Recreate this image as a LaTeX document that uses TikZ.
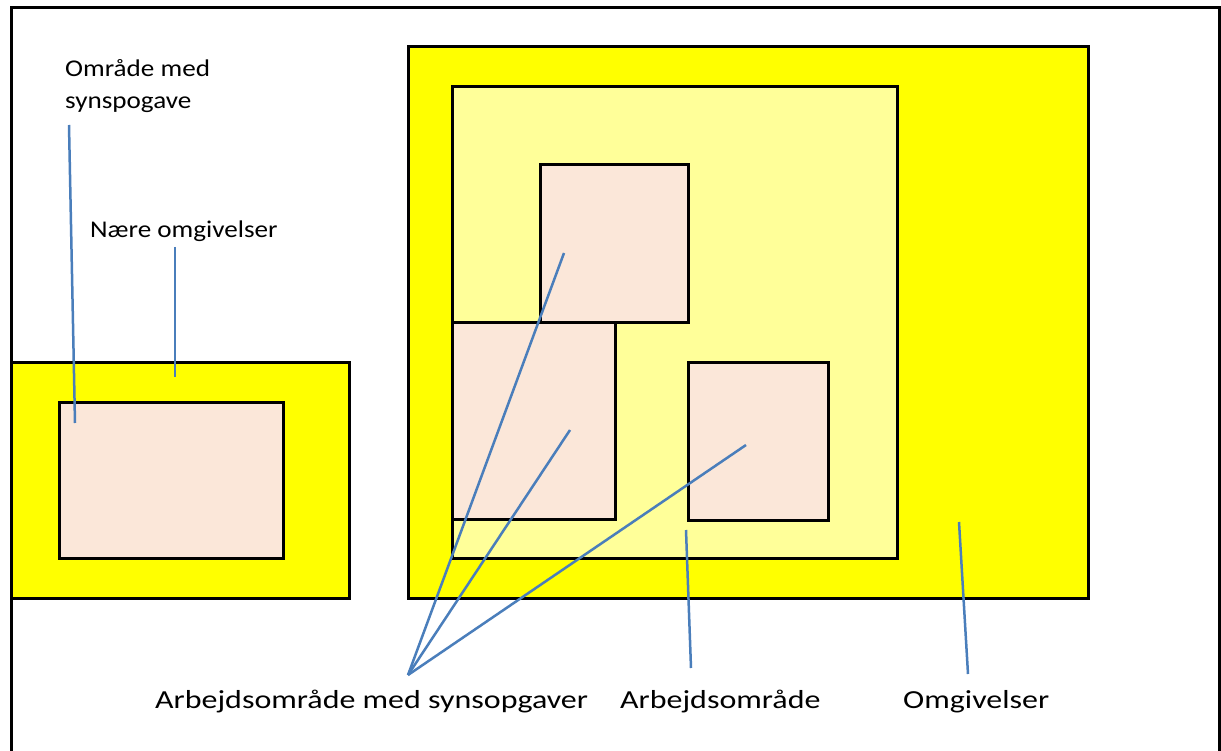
\documentclass[tikz,border=0pt]{standalone}
\usepackage{fontspec}
\setmainfont{Carlito}
\newfontfamily\widefont[FakeStretch=1.23]{Carlito}
\newfontfamily\loosefont[FakeStretch=1.13]{Carlito}
\begin{document}
\begin{tikzpicture}[x=1pt,y=-1pt,
  frame/.style={draw=black,line width=3pt},
  zone/.style={draw=black,line width=3pt,fill=#1},
  pointer/.style={draw=lineblue,line width=2.5pt},
  label/.style={font=\widefont\fontsize{26}{30}\selectfont,inner sep=0pt,anchor=base west},
  toplabel/.style={font=\loosefont\fontsize{24}{32}\selectfont,inner sep=0pt,anchor=base west}
]
\definecolor{yel}{HTML}{FFFF00}
\definecolor{lightyel}{HTML}{FFFF99}
\definecolor{peach}{HTML}{FBE7D9}
\definecolor{lineblue}{HTML}{4A7EBB}
\useasboundingbox (0,0) rectangle (1221,751);
\fill[white] (0,0) rectangle (1221,751);
\clip (0,0) rectangle (1221,751);

% outer frame, open at the bottom
\draw[frame] (11,760) -- (11,8) -- (1219,8) -- (1219,760);

% small setup on the left
\draw[zone=yel] (11,362) rectangle (349,598);
\draw[zone=peach] (59,402) rectangle (283,558);

% large setup on the right
\draw[zone=yel] (408,47) rectangle (1088,598);
\draw[zone=lightyel] (452,87) rectangle (897,558);
\draw[zone=peach] (540,165) rectangle (688,323);
\draw[zone=peach] (452,323) rectangle (615,519);
\draw[zone=peach] (688,362) rectangle (828,520);

% labels
\node[toplabel] (omr) at (65,77) {Område med};
\node[toplabel] (syn) at (65,109) {synspogave};
\node[toplabel] (naere) at (90,238) {Nære omgivelser};
\node[label] (arbsyn) at (155,708) {Arbejdsområde med synsopgaver};
\node[label] (arb) at (620,708) {Arbejdsområde};
\node[label] (omg) at (903,708) {Omgivelser};

% pointer end points
\coordinate (pOmr) at (69,125);
\coordinate (eOmr) at (75,423);
\coordinate (pNaere) at (175,247);
\coordinate (eNaere) at (175,377);
\coordinate (hub) at (408,675);
\coordinate (eTop) at (564,253);
\coordinate (eLeft) at (570,430);
\coordinate (eRight) at (746,445);
\coordinate (pArb) at (691,668);
\coordinate (eArb) at (686,530);
\coordinate (pOmg) at (968,674);
\coordinate (eOmg) at (959,522);

% pointers
\draw[pointer] (pOmr) -- (eOmr);
\draw[pointer] (pNaere) -- (eNaere);
\draw[pointer] (hub) -- (eTop);
\draw[pointer] (hub) -- (eLeft);
\draw[pointer] (hub) -- (eRight);
\draw[pointer] (pArb) -- (eArb);
\draw[pointer] (pOmg) -- (eOmg);
\end{tikzpicture}
\end{document}
